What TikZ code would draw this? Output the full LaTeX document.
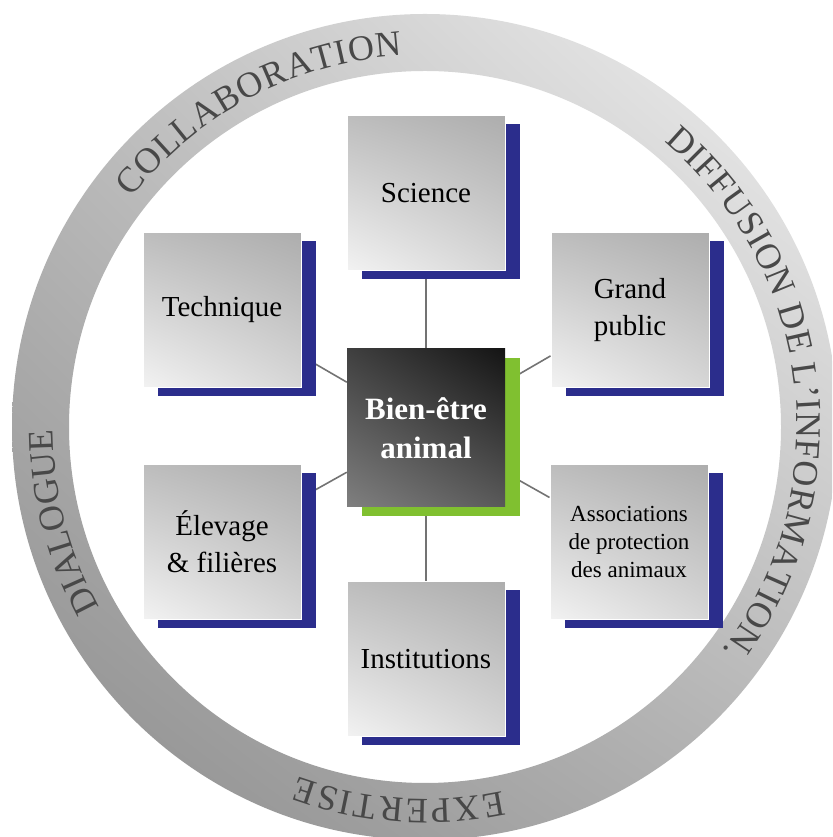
\documentclass[tikz,border=0pt]{standalone}
\usepackage{fontspec}
\setmainfont{Liberation Serif}
\usepackage{tikz}
\usetikzlibrary{shadows,shadings,decorations.text,backgrounds}

\definecolor{poleblue}{RGB}{43,45,140}
\definecolor{coregreen}{RGB}{128,192,48}
\definecolor{ringtext}{RGB}{72,72,72}
\newcommand{\ringfont}{\fontsize{36}{36}\selectfont}

\begin{document}
\begin{tikzpicture}[
    x=1pt, y=1pt,
    pole/.style={shade, upper left=black!26, upper right=black!32, lower left=black!5, lower right=black!16,
        draw=white, line width=1pt, minimum width=158pt, minimum height=155pt, align=center,
        font=\fontsize{29}{37}\selectfont,
        general shadow={fill=poleblue, shadow xshift=15pt, shadow yshift=-9pt}},
    core/.style={shade, upper left=black!75, upper right=black!92, lower left=black!50, lower right=black!65,
        minimum width=158pt, minimum height=158pt, align=center, text=white,
        font=\bfseries\fontsize{31}{39}\selectfont,
        general shadow={fill=coregreen, shadow xshift=15pt, shadow yshift=-9pt}},
    link/.style={draw=black!55, line width=1.6pt},
    ringlabel/.style={decorate, decoration={text along path, text color=ringtext, text align=fit to path}}
]
\useasboundingbox (0,0) rectangle (832,837);
\clip (0,0) rectangle (832,837);

% Ring and its words
\coordinate (ringc) at (425,410);
\shade[even odd rule, lower left=black!45, upper left=black!26, lower right=black!30, upper right=black!5]
    (ringc) circle[radius=413pt] (ringc) circle[radius=356pt];
\path[ringlabel, decoration={text={|\ringfont|COLLABORATION}}]
    ([shift={(142:372pt)}]ringc) arc[start angle=142, end angle=93.5, radius=372pt];
\path[ringlabel, decoration={text={|\ringfont|DIFFUSION DE L'INFORMATION.}}]
    ([shift={(50:372pt)}]ringc) arc[start angle=50, end angle=-37, radius=372pt];
\path[ringlabel, decoration={text={|\ringfont|EXPERTISE}}]
    ([shift={(-78:372pt)}]ringc) arc[start angle=-78, end angle=-110, radius=372pt];
\path[ringlabel, decoration={text={|\ringfont|DIALOGUE}}]
    ([shift={(209:372pt)}]ringc) arc[start angle=209, end angle=180.5, radius=372pt];

% Poles
\node[core] (core) at (426,409) {Bien-être\\animal};
\node[pole] (sci) at (426,644) {Science};
\node[pole] (tech) at (222,527) {Technique};
\node[pole] (grand) at (630,527) {Grand\\public};
\node[pole] (elev) at (222,295) {Élevage\\\& filières};
\node[pole, font=\fontsize{23}{28}\selectfont] (assoc) at (629,295) {Associations\\de protection\\des animaux};
\node[pole] (inst) at (426,178) {Institutions};

% Links behind the poles
\begin{scope}[on background layer]
\foreach \p in {sci,tech,grand,elev,assoc,inst}
    \draw[link] (core) -- (\p);
\end{scope}
\end{tikzpicture}
\end{document}
